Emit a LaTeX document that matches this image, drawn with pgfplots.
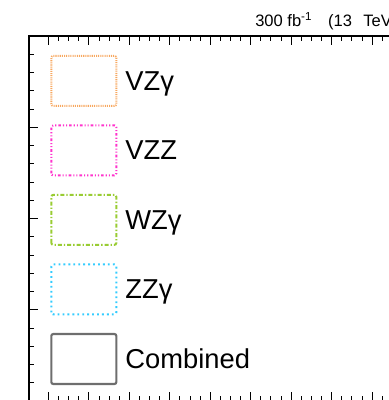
\documentclass[border=0pt]{standalone}
\usepackage{pgfplots}
\pgfplotsset{compat=1.18}
\usepackage{fontspec}
\setmainfont{Liberation Sans}
\definecolor{corange}{RGB}{247,168,96}
\definecolor{cmagenta}{RGB}{255,51,204}
\definecolor{cgreen}{RGB}{153,204,51}
\definecolor{ccyan}{RGB}{51,204,255}
\definecolor{cgray}{RGB}{110,110,110}
\begin{document}
\begin{tikzpicture}[x=0.75pt,y=0.75pt]
\useasboundingbox (0,0) rectangle (389,400);
\begin{scope}
\clip (0,0) rectangle (389,400);
\begin{axis}[
  at={(21.75pt,-0.75pt)}, anchor=south west,
  scale only axis, width=287.6pt, height=273.75pt,
  xmin=-0.48, xmax=9, ymin=0, ymax=4,
  xtick={0,...,9}, ytick={0,...,4},
  minor x tick num=3, minor y tick num=4,
  xticklabels={}, yticklabels={},
  xtick pos=both, ytick pos=both,
  tick align=inside,
  major tick length=6.75pt, minor tick length=3.75pt,
  axis line style={line width=0.9pt},
  every tick/.style={black, line width=0.6pt},
  legend style={at={(rel axis cs:0,1)}, anchor=north west, xshift=15.75pt, yshift=-14pt,
    draw=none, fill=none, inner sep=0pt,
    font=\fontsize{20.5}{24}\selectfont,
    row sep=13.1pt,
    nodes={inner sep=0pt, text depth=0pt}},
  legend cell align=left,
  legend image code/.code={\draw[#1, rounded corners=1.5pt] (0pt,-18.75pt) rectangle (48.75pt,18.75pt);},
]
\addlegendimage{corange, line width=1.5pt, dash pattern=on 0.8pt off 0.8pt}
\addlegendentry{\hspace{6pt}VZγ}
\addlegendimage{cmagenta, line width=1.5pt, dash pattern=on 2pt off 1.5pt on 0.8pt off 1.5pt on 0.8pt off 1.5pt}
\addlegendentry{\hspace{6pt}VZZ}
\addlegendimage{cgreen, line width=1.5pt, dash pattern=on 3pt off 1.5pt on 1pt off 1.5pt}
\addlegendentry{\hspace{6pt}WZγ}
\addlegendimage{ccyan, line width=1.6pt, dash pattern=on 1.4pt off 2.3pt}
\addlegendentry{\hspace{6pt}ZZγ}
\addlegendimage{cgray, line width=1.6pt}
\addlegendentry{\hspace{6pt}Combined}
\end{axis}
\end{scope}
\node[anchor=base west, inner sep=0pt, font=\fontsize{12.4}{14}\selectfont] at (255,373.3) {300 fb\textsuperscript{-1}\hspace{12pt}(13\hspace{8.5pt}TeV)};
\end{tikzpicture}
\end{document}
